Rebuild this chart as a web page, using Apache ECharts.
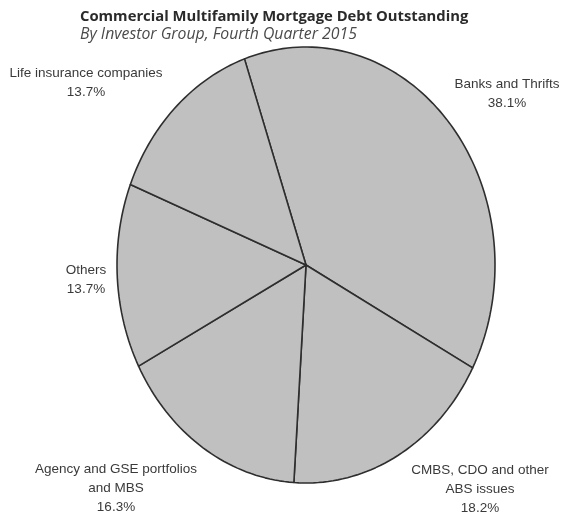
<!DOCTYPE html>
<html>
<head>
<meta charset="utf-8">
<script src="https://cdn.jsdelivr.net/npm/echarts@6/dist/echarts.min.js"></script>
<style>
  html, body { margin: 0; padding: 0; background: #fff; }
  #chart { width: 565px; height: 516px; }
</style>
</head>
<body>
<div id="chart"></div>
<script>
// Investor groups, clockwise from the top of the pie
const groups = [
  'Banks and Thrifts',
  'CMBS, CDO and other\nABS issues',
  'Agency and GSE portfolios\nand MBS',
  'Others',
  'Life insurance companies'
];
const shares = [38.1, 18.2, 16.3, 13.7, 13.7];
const shareLabels = ['38.1%', '18.2%', '16.3%', '13.7%', '13.7%'];

// Layout: ellipse geometry and label anchors (centre of each label block's first line)
const pie = { cx: 306, cy: 265, rx: 189, ry: 218, start: -19 };
const labelAnchors = [[507, 84], [480, 470], [116, 469], [86, 270], [86, 73]];

const total = shares.reduce((a, b) => a + b, 0);

function ellipsePoint(deg) {
  const t = deg * Math.PI / 180;
  return [pie.cx + pie.rx * Math.sin(t), pie.cy - pie.ry * Math.cos(t)];
}

function renderSlice(params, api) {
  const i = params.dataIndex;
  let before = 0;
  for (let k = 0; k < i; k++) before += shares[k];
  const a0 = pie.start + before / total * 360;
  const a1 = a0 + api.value(0) / total * 360;
  const pts = [[pie.cx, pie.cy]];
  const steps = Math.max(8, Math.ceil((a1 - a0) / 1.5));
  for (let s = 0; s <= steps; s++) pts.push(ellipsePoint(a0 + (a1 - a0) * s / steps));
  const [lx, ly] = labelAnchors[i];
  return {
    type: 'group',
    children: [
      {
        type: 'polygon',
        shape: { points: pts },
        style: { fill: '#c0c0c0', stroke: '#2e2e2e', lineWidth: 1.6, lineJoin: 'round' }
      },
      {
        type: 'text',
        style: {
          x: lx, y: ly - 9,
          text: groups[i] + '\n' + shareLabels[i],
          fill: '#3a3a3a',
          font: '13.5px "Liberation Sans", Arial, sans-serif',
          align: 'center',
          verticalAlign: 'top',
          lineHeight: 19
        }
      }
    ]
  };
}

const chart = echarts.init(document.getElementById('chart'), null, { renderer: 'canvas' });
chart.setOption({
  backgroundColor: '#ffffff',
  animation: false,
  title: {
    text: 'Commercial Multifamily Mortgage Debt Outstanding',
    subtext: 'By Investor Group, Fourth Quarter 2015',
    left: 75,
    top: 2,
    itemGap: -1,
    textStyle: { fontFamily: '"Open Sans", sans-serif', fontWeight: 'bold', fontSize: 14.8, color: '#2a2a2a', lineHeight: 19 },
    subtextStyle: { fontFamily: '"Open Sans", sans-serif', fontStyle: 'italic', fontSize: 15.8, color: '#4a4a4a', lineHeight: 19 }
  },
  series: [{
    type: 'custom',
    coordinateSystem: 'none',
    renderItem: renderSlice,
    data: shares.map(v => [v])
  }]
});
</script>
</body>
</html>
